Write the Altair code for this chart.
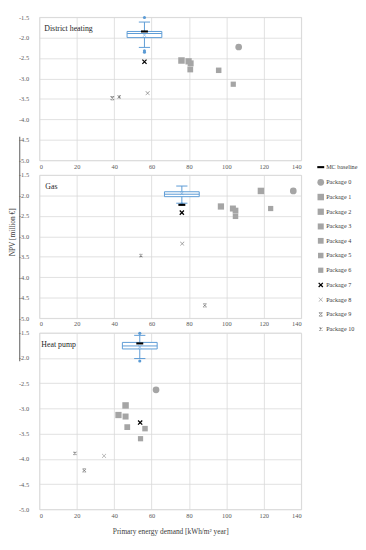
import altair as alt
import pandas as pd

# ---------------- data ----------------
PANELS = ["District heating", "Gas", "Heat pump"]
SERIES = ["MC baseline", "Package 0", "Package 1", "Package 2", "Package 3",
          "Package 4", "Package 5", "Package 6", "Package 7", "Package 8",
          "Package 9", "Package 10"]

DH_X = [56.2, 106.6, 76.0, 79.8, 80.9, 80.7, 95.9, 103.7, 56.2, 57.9, 39.0, 42.7]
DH_Y = [-1.85, -2.23, -2.56, -2.58, -2.63, -2.78, -2.80, -3.14, -2.59, -3.36, -3.48, -3.45]
GAS_X = [76.2, 135.8, 118.5, 97.1, 103.5, 104.9, 104.9, 123.7, 76.2, 76.4, 88.5, 54.3]
GAS_Y = [-2.23, -1.89, -1.89, -2.27, -2.32, -2.37, -2.51, -2.32, -2.42, -3.18, -4.69, -3.47]
HP_X = [53.7, 62.4, 46.1, 42.3, 46.1, 47.0, 56.5, 54.1, 53.9, 34.6, 24.0, 19.0]
HP_Y = [-1.71, -2.63, -2.94, -3.13, -3.16, -3.37, -3.40, -3.60, -3.28, -3.94, -4.23, -3.89]

# Monte Carlo box plot statistics per panel
BOX_X = [56.2, 76.2, 53.7]
BOX_Q1 = [-2.00, -2.03, -1.82]
BOX_Q3 = [-1.85, -1.91, -1.69]
BOX_MED = [-1.90, -1.97, -1.76]
BOX_MEAN = [-1.94, -1.95, -1.78]
BOX_WLO = [-2.24, -2.19, -2.01]
BOX_WHI = [-1.62, -1.77, -1.55]

OUT_PANEL = ["District heating", "District heating", "District heating",
             "Gas", "Heat pump", "Heat pump"]
OUT_Y = [-1.51, -2.32, -2.36, -2.21, -1.51, -2.06]

X_TICKS = [0, 20, 40, 60, 80, 100, 120, 140]
Y_TICKS = [-5.0, -4.5, -4.0, -3.5, -3.0, -2.5, -2.0, -1.5]

# ---------------- style ----------------
FONT = "Liberation Serif"
GRAY = "#A5A5A5"
DGRAY = "#7F7F7F"
BLUE = "#5B9BD5"
GRID = "#D9D9D9"
LABEL = "#595959"

DASH = "M-1,-0.3L1,-0.3L1,0.3L-1,0.3Z"
XBOLD = ("M-0.67,-1.03L1.03,0.67L0.67,1.03L-1.03,-0.67Z "
         "M-1.03,0.67L0.67,-1.03L1.03,-0.67L-0.67,1.03Z")
XTHIN = ("M-0.78,-0.92L0.92,0.78L0.78,0.92L-0.92,-0.78Z "
         "M-0.92,0.78L0.78,-0.92L0.92,-0.78L-0.78,0.92Z")
XMID = ("M-0.74,-0.96L0.96,0.74L0.74,0.96L-0.96,-0.74Z "
        "M-0.96,0.74L0.74,-0.96L0.96,-0.74L-0.74,0.96Z")
XBARS = XMID + " M-0.6,-1L0.6,-1L0.6,-0.8L-0.6,-0.8Z M-0.6,0.8L0.6,0.8L0.6,1L-0.6,1Z"
XSTAR = XMID + " M-0.13,-1L0.13,-1L0.13,1L-0.13,1Z"

SHAPES = [DASH, "circle", "square", "square", "square", "square", "square",
          "square", XBOLD, XTHIN, XBARS, XSTAR]
COLORS = ["#000000", GRAY, GRAY, GRAY, GRAY, GRAY, GRAY, GRAY, "#000000",
          DGRAY, DGRAY, DGRAY]
SIZES = [50, 16, 20, 20, 20, 20, 20, 20, 95, 34, 46, 46]

points = pd.DataFrame({
    "panel": [PANELS[0]] * 12 + [PANELS[1]] * 12 + [PANELS[2]] * 12,
    "series": SERIES * 3,
    "x": DH_X + GAS_X + HP_X,
    "y": DH_Y + GAS_Y + HP_Y,
})
boxes = pd.DataFrame({
    "panel": PANELS, "cx": BOX_X, "q1": BOX_Q1, "q3": BOX_Q3, "med": BOX_MED,
    "mean": BOX_MEAN, "wlo": BOX_WLO, "whi": BOX_WHI,
})
outs = pd.DataFrame({"panel": OUT_PANEL, "y": OUT_Y})
outs["cx"] = outs["panel"].map(dict(zip(PANELS, BOX_X)))
titles = pd.DataFrame({"panel": PANELS})

XS = alt.Scale(domain=[0, 140], nice=False)
YS = alt.Scale(domain=[-5, -1.5], nice=False)

legend = alt.Legend(
    title=None, orient="none", legendX=283, legendY=149,
    labelFont=FONT, labelFontSize=6.3, labelColor="#404040",
    symbolSize=28, symbolStrokeWidth=0, rowPadding=8.0, labelOffset=1.5,
    padding=0,
)


def panel(i, height, title_dx, x_title, y_title):
    name = PANELS[i]
    xaxis = alt.Axis(
        values=X_TICKS, grid=True, gridColor=GRID, gridWidth=0.8,
        domain=False, ticks=False, labelFont=FONT, labelFontSize=6.5,
        labelColor=LABEL, labelPadding=3,
        title="Primary energy demand [kWh/m\u00b2 year]" if x_title else None,
        titleFont=FONT, titleFontSize=7.5, titleFontWeight="normal",
        titleColor="#404040", titlePadding=9,
    )
    yaxis = alt.Axis(
        values=Y_TICKS, grid=True, gridColor=GRID, gridWidth=0.8,
        domain=False, ticks=False, labelFont=FONT, labelFontSize=6.5,
        labelColor=LABEL, labelPadding=11,
        labelExpr="replace(format(datum.value, '.1f'), '\u2212', '-')",
        title="NPV [million \u20ac]" if y_title else None,
        titleFont=FONT, titleFontSize=7.5, titleFontWeight="normal",
        titleColor="#404040", titleAngle=270, titleX=-27, titleY=58,
        titleAlign="center", titleBaseline="middle",
    )

    def X(f):
        return alt.X(f"{f}:Q", scale=XS, axis=xaxis)

    def Y(f):
        return alt.Y(f"{f}:Q", scale=YS, axis=yaxis)

    b = alt.Chart(boxes[boxes.panel == name]).transform_calculate(
        xl="datum.cx - 9.3", xr="datum.cx + 9.3",
        cl="datum.cx - 3", cr="datum.cx + 3",
    )
    rect = b.mark_rect(fill="white", stroke=BLUE, strokeWidth=1).encode(
        x=X("xl"), x2="xr", y=Y("q1"), y2="q3")
    wlo = b.mark_rule(color=BLUE, strokeWidth=1).encode(x=X("cx"), y=Y("wlo"), y2="q1")
    whi = b.mark_rule(color=BLUE, strokeWidth=1).encode(x=X("cx"), y=Y("q3"), y2="whi")
    clo = b.mark_rule(color=BLUE, strokeWidth=1).encode(x=X("cl"), x2="cr", y=Y("wlo"))
    chi = b.mark_rule(color=BLUE, strokeWidth=1).encode(x=X("cl"), x2="cr", y=Y("whi"))
    med = b.mark_rule(color=BLUE, strokeWidth=1).encode(x=X("xl"), x2="xr", y=Y("med"))
    mean = b.mark_point(shape=XTHIN, filled=True, color=BLUE, size=16,
                        opacity=1).encode(x=X("cx"), y=Y("mean"))
    out = alt.Chart(outs[outs.panel == name]).mark_point(
        shape="circle", filled=True, color=BLUE, size=10, opacity=1
    ).encode(x=X("cx"), y=Y("y"))

    pts = alt.Chart(points[points.panel == name]).mark_point(
        filled=True, opacity=1, strokeWidth=0
    ).encode(
        x=X("x"), y=Y("y"),
        shape=alt.Shape("series:N", scale=alt.Scale(domain=SERIES, range=SHAPES),
                        legend=legend),
        color=alt.Color("series:N", scale=alt.Scale(domain=SERIES, range=COLORS),
                        legend=legend),
        size=alt.Size("series:N", scale=alt.Scale(domain=SERIES, range=SIZES),
                      legend=None),
    )
    label = alt.Chart(titles[titles.panel == name]).mark_text(
        align="left", baseline="alphabetic", font=FONT, fontSize=8,
        color="#262626",
    ).encode(x=alt.value(title_dx), y=alt.value(14.5), text="panel:N")

    layers = [rect, wlo, whi, clo, chi, med, mean, out, pts, label]
    if y_title:
        deco = alt.Chart(pd.DataFrame({"k": [0]})).mark_rule(
            color="#595959", strokeWidth=1
        ).encode(x=alt.value(-20), y=alt.value(-39), y2=alt.value(190))
        layers.append(deco)
    return alt.layer(*layers).properties(width=267, height=height)


chart = alt.vconcat(
    panel(0, 146, 5, False, False),
    panel(1, 146, 6, False, True),
    panel(2, 180, 2, True, False),
    spacing=15, bounds="flush",
).configure_view(stroke=GRID, strokeWidth=0.8).properties(
    padding={"left": 0, "top": 0, "right": 0, "bottom": 0}
)

chart.save("out.html", embed_options={"renderer": "svg", "actions": False})
